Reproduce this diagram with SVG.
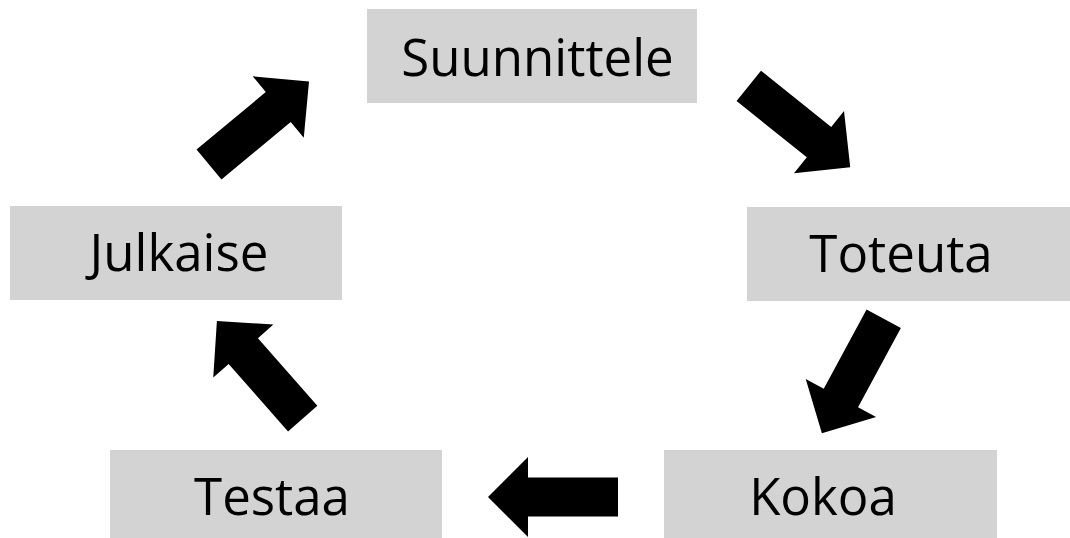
<svg xmlns="http://www.w3.org/2000/svg" width="1070" height="538" viewBox="0 0 1070 538">
  <style>
    .box { fill: #d3d3d3; }
    .label { font-family: "Open Sans", "Liberation Sans", sans-serif; font-size: 51px; fill: #000; text-anchor: middle; }
    .arrow { fill: #000; }
  </style>
  <defs>
    <!-- block arrow pointing along +x, centred on the origin, 130 long -->
    <path id="blockArrow" d="M -65 -19.5 L 25 -19.5 L 25 -40 L 65 0 L 25 40 L 25 19.5 L -65 19.5 Z"/>
  </defs>
  <rect width="1070" height="538" fill="#fff"/>

  <g id="suunnittele">
    <rect class="box" x="367" y="9" width="330" height="94"/>
    <text class="label" x="537.5" y="76">Suunnittele</text>
  </g>
  <g id="toteuta">
    <rect class="box" x="747" y="207" width="323" height="94"/>
    <text class="label" x="901" y="272">Toteuta</text>
  </g>
  <g id="kokoa">
    <rect class="box" x="664" y="450" width="333" height="88"/>
    <text class="label" x="823" y="515">Kokoa</text>
  </g>
  <g id="testaa">
    <rect class="box" x="110" y="450" width="332" height="88"/>
    <text class="label" x="272" y="515">Testaa</text>
  </g>
  <g id="julkaise">
    <rect class="box" x="10" y="206" width="332" height="94"/>
    <text class="label" x="179" y="271">Julkaise</text>
  </g>

  <g id="connectors" class="arrow">
    <use href="#blockArrow" transform="translate(799.5 126.5) rotate(38.7)"/>
    <use href="#blockArrow" transform="translate(852.8 376) rotate(118.4)"/>
    <use href="#blockArrow" transform="translate(553 497) rotate(180)"/>
    <use href="#blockArrow" transform="translate(259.8 369.8) rotate(-131.3)"/>
    <use href="#blockArrow" transform="translate(259 123) rotate(-39.7)"/>
  </g>
</svg>
